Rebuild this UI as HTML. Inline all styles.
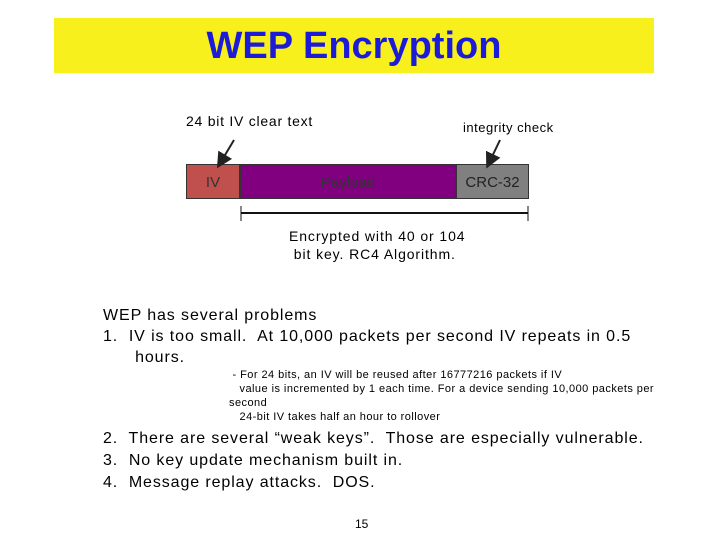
<!DOCTYPE html>
<html><head><style>
body{margin:0;width:720px;height:540px;background:#fff;position:relative;overflow:hidden;font-family:"Liberation Sans",Arial,sans-serif}
.a{position:absolute;white-space:nowrap}
</style></head><body>
<div class="a" style="left:54px;top:18px;width:600px;height:55px;background:#f7f01c"></div>
<div class="a" style="left:54px;top:22px;width:600px;text-align:center;font-size:38px;font-weight:bold;color:#1c1cd8;line-height:48px">WEP Encryption</div>
<div class="a" style="left:186px;top:113px;font-size:14px;letter-spacing:0.75px">24 bit IV clear text</div>
<div class="a" style="left:463px;top:120px;font-size:13px;letter-spacing:0.5px">integrity check</div>
<div class="a" style="left:186px;top:164px;width:54px;height:35px;background:#c0504d;border:1px solid #333;box-sizing:border-box;font-size:15px;text-align:center;line-height:35px;color:#333">IV</div>
<div class="a" style="left:240px;top:164px;width:216px;height:35px;background:#800080;border:1px solid #333;box-sizing:border-box;font-size:15px;text-align:center;line-height:35px;color:#333">Payload</div>
<div class="a" style="left:456px;top:164px;width:73px;height:35px;background:#808080;border:1px solid #333;box-sizing:border-box;font-size:15px;text-align:center;line-height:35px;color:#222">CRC-32</div>
<svg class="a" style="left:0;top:0" width="720" height="540">
<defs><marker id="m" markerWidth="8" markerHeight="8" refX="6" refY="4" orient="auto"><path d="M0,0L8,4L0,8z" fill="#222"/></marker></defs>
<line x1="234" y1="140" x2="219" y2="165" stroke="#222" stroke-width="2" marker-end="url(#m)"/>
<line x1="500" y1="140" x2="488" y2="165" stroke="#222" stroke-width="2" marker-end="url(#m)"/>
<line x1="241" y1="213" x2="528" y2="213" stroke="#111" stroke-width="2"/>
<line x1="241" y1="206" x2="241" y2="221" stroke="#111"/>
<line x1="528" y1="206" x2="528" y2="221" stroke="#111"/>
</svg>
<div class="a" style="left:289px;top:227px;font-size:14px;line-height:18px;letter-spacing:0.9px">Encrypted with 40 or 104<br>&nbsp;bit key. RC4 Algorithm.</div>
<div class="a" style="left:103px;top:305px;font-size:16px;line-height:21px;letter-spacing:0.9px">WEP has several problems<br>1.&nbsp; IV is too small.&nbsp; At 10,000 packets per second IV repeats in 0.5<br>&nbsp;&nbsp;&nbsp;&nbsp;&nbsp;&nbsp;hours.</div>
<div class="a" style="left:229px;top:368px;font-size:11px;line-height:14px;letter-spacing:0.45px">&nbsp;- For 24 bits, an IV will be reused after 16777216 packets if IV<br>&nbsp;&nbsp;&nbsp;value is incremented by 1 each time. For a device sending 10,000 packets per<br>second<br>&nbsp;&nbsp;&nbsp;24-bit IV takes half an hour to rollover</div>
<div class="a" style="left:103px;top:428px;font-size:16px;line-height:22px;letter-spacing:0.9px">2.&nbsp; There are several “weak keys”.&nbsp; Those are especially vulnerable.<br>3.&nbsp; No key update mechanism built in.<br>4.&nbsp; Message replay attacks.&nbsp; DOS.</div>
<div class="a" style="left:355px;top:517px;font-size:12px">15</div>
</body></html>
